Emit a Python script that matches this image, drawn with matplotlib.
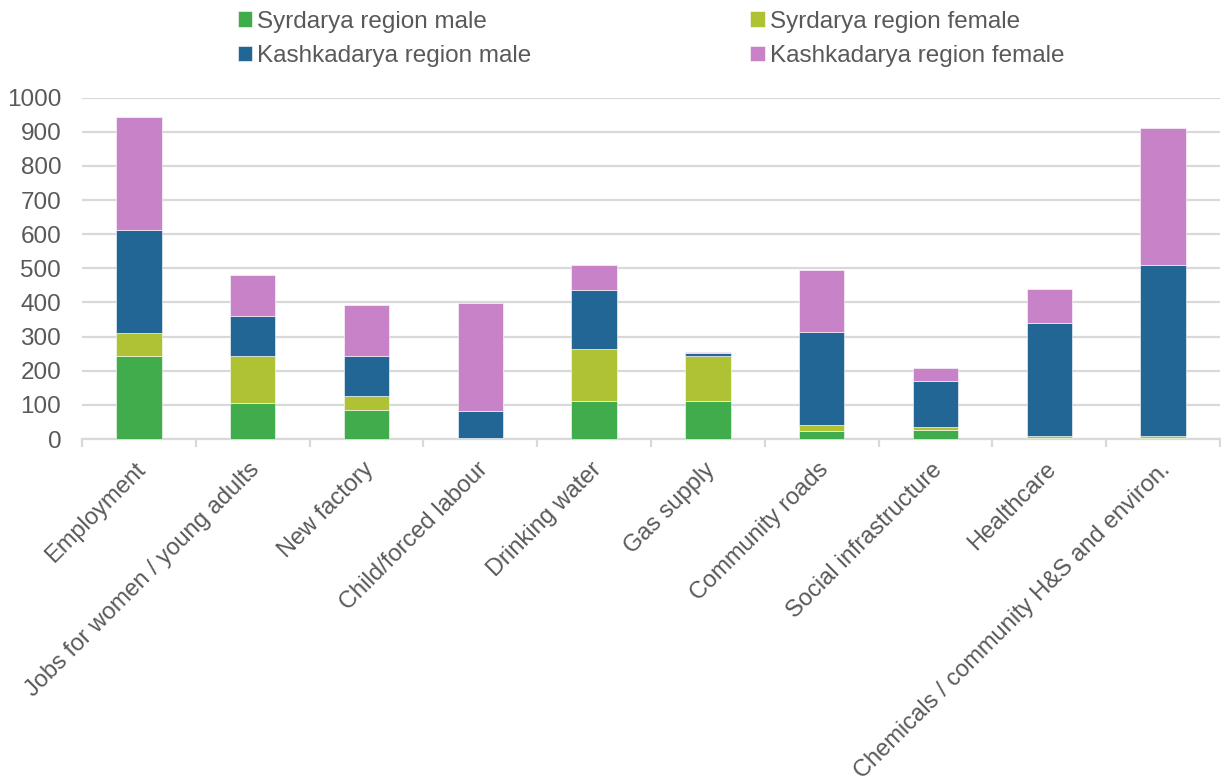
import matplotlib.pyplot as plt
import matplotlib.transforms as mtransforms
import numpy as np

plt.rcParams['font.family'] = ['Liberation Sans', 'DejaVu Sans']

categories = ['Employment', 'Jobs for women / young adults', 'New factory',
              'Child/forced labour', 'Drinking water', 'Gas supply',
              'Community roads', 'Social infrastructure', 'Healthcare',
              'Chemicals / community H&S and environ.']
series_names = ['Syrdarya region male', 'Syrdarya region female',
                'Kashkadarya region male', 'Kashkadarya region female']
syr_male = [243, 106, 85, 2, 112, 112, 24, 25, 4, 4]
syr_female = [67, 136, 42, 0, 152, 132, 18, 11, 5, 5]
kash_male = [302, 119, 117, 81, 172, 9, 272, 135, 330, 502]
kash_female = [331, 119, 149, 315, 74, 2, 181, 37, 100, 399]
yticks = [0, 100, 200, 300, 400, 500, 600, 700, 800, 900, 1000]

colors = ['#41ac4c', '#afc234', '#216695', '#c782c8']
grey = '#595959'
grid = '#d9d9d9'

fig = plt.figure(figsize=(12.21, 7.81), dpi=100)
ax = fig.add_axes([82 / 1221, 1 - 439 / 781, (1220 - 82) / 1221, (439 - 97.7) / 781])

x = np.arange(len(categories))
bottom = np.zeros(len(categories))
handles = []
for name, vals, c in zip(series_names, [syr_male, syr_female, kash_male, kash_female], colors):
    b = ax.bar(x, vals, width=0.4, bottom=bottom, color=c, label=name,
               edgecolor='white', linewidth=0.4, zorder=3)
    handles.append(b)
    bottom += np.array(vals)

ax.set_xlim(-0.5, len(categories) - 0.5)
ax.set_ylim(0, 1000)
ax.set_yticks(yticks)
ax.yaxis.grid(True, color=grid, linewidth=1.6, zorder=0)
ax.tick_params(axis='y', length=0, labelsize=17.5, labelcolor=grey, pad=15)

for s in ['top', 'right', 'left']:
    ax.spines[s].set_visible(False)
ax.spines['bottom'].set_color(grid)
ax.spines['bottom'].set_linewidth(1.6)

# category labels at centres, tick marks between categories
ax.set_xticks(x)
ax.set_xticklabels(categories, rotation=45, ha='right', va='top',
                   rotation_mode='anchor', fontsize=17, color=grey)
ax.tick_params(axis='x', which='major', length=0, pad=14)
offset = mtransforms.ScaledTranslation(-4 / 100, 0, fig.dpi_scale_trans)
for lab in ax.get_xticklabels():
    lab.set_transform(lab.get_transform() + offset)
ax.set_xticks(np.arange(-0.5, len(categories)), minor=True)
ax.tick_params(axis='x', which='minor', length=6, width=1.6, color=grid)

# legend filled row by row: Syrdarya on top, Kashkadarya below
order = [0, 2, 1, 3]
fig.legend(handles=[handles[i] for i in order],
           labels=[series_names[i] for i in order], ncol=2, loc='upper left',
           bbox_to_anchor=(228 / 1221, 1 - 1 / 781), frameon=False,
           fontsize=17.5, labelcolor=grey, handlelength=0.6, handleheight=0.6,
           handletextpad=0.2, columnspacing=9.0, labelspacing=0.5,
           borderaxespad=0)

fig.savefig('out.png', dpi=100)
